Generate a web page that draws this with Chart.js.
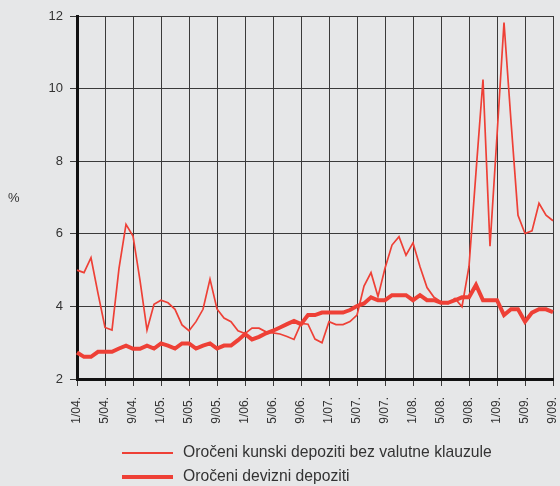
<!DOCTYPE html>
<html>
<head>
<meta charset="utf-8">
<script src="https://cdn.jsdelivr.net/npm/chart.js@4/dist/chart.umd.min.js"></script>
<style>
  body { margin: 0; background: #e6e7e8; font-family: "Liberation Sans", Arial, sans-serif; }
  #wrap { position: relative; width: 560px; height: 486px; }
  #unit { position: absolute; left: 8px; top: 190px; font-size: 13px; color: #333; }
  .leg { position: absolute; left: 122px; font-size: 15.7px; color: #333; }
  .leg span.line { position: absolute; left: 0; width: 51px; background: #ee4036; }
  .leg span.txt { position: absolute; left: 61px; white-space: nowrap; }
</style>
</head>
<body>
<div id="wrap">
  <canvas id="chart" width="560" height="486"></canvas>
  <div id="unit">%</div>
  <div class="leg" style="top:453px"><span class="line" style="top:-1px;height:2px"></span><span class="txt" style="top:-10px">Oročeni kunski depoziti bez valutne klauzule</span></div>
  <div class="leg" style="top:477px"><span class="line" style="top:-2px;height:4px"></span><span class="txt" style="top:-10px">Oročeni devizni depoziti</span></div>
</div>
<script>
const red = "#ee4036";
const gridDark = "#3a3a3a";

// months 1/04. .. 9/09.
const months = [];
for (let y = 4; y <= 9; y++) {
   for (let m = 1; m <= 12; m++) {
      if (y === 9 && m > 9) break;
      months.push(m + "/0" + y + ".");
   }
}

const kunski = [
   5.0, 4.93, 5.34, 4.36, 3.42, 3.35, 5.05, 6.26, 5.94, 4.72,
   3.35, 4.06, 4.17, 4.1, 3.92, 3.49, 3.33, 3.58, 3.92, 4.75,
   3.93, 3.68, 3.58, 3.33, 3.25, 3.4, 3.4, 3.3, 3.27, 3.24,
   3.17, 3.09, 3.53, 3.51, 3.1, 3.0, 3.58, 3.5, 3.5, 3.58,
   3.76, 4.56, 4.93, 4.27, 5.05, 5.69, 5.92, 5.41, 5.75, 5.09,
   4.52, 4.25, 4.13, 4.08, 4.22, 3.99, 5.1, 7.7, 10.25, 5.66,
   8.7, 11.82, 9.1, 6.51, 6.01, 6.08, 6.84, 6.51, 6.36
];

const devizni = [
   2.73, 2.61, 2.61, 2.75, 2.75, 2.75, 2.84, 2.92, 2.83, 2.83,
   2.92, 2.84, 2.98, 2.92, 2.84, 2.98, 2.98, 2.84, 2.92, 2.98,
   2.84, 2.92, 2.92, 3.07, 3.24, 3.09, 3.16, 3.26, 3.33, 3.42,
   3.51, 3.6, 3.51, 3.76, 3.76, 3.83, 3.83, 3.83, 3.83, 3.9,
   4.01, 4.08, 4.25, 4.17, 4.17, 4.31, 4.31, 4.31, 4.17, 4.31,
   4.17, 4.17, 4.1, 4.1, 4.17, 4.25, 4.25, 4.59, 4.17, 4.17,
   4.17, 3.76, 3.92, 3.92, 3.58, 3.83, 3.92, 3.92, 3.84
];

const yTicks = [2, 4, 6, 8, 10, 12];

new Chart("chart", {
   type: "line",
   data: {
      labels: months,
      datasets: [
         {
            label: "Oročeni kunski depoziti bez valutne klauzule",
            data: kunski,
            borderColor: red,
            borderWidth: 1.7,
            pointRadius: 0,
            tension: 0
         },
         {
            label: "Oročeni devizni depoziti",
            data: devizni,
            borderColor: red,
            borderWidth: 4,
            pointRadius: 0,
            tension: 0
         }
      ]
   },
   options: {
      responsive: false,
      animation: false,
      layout: { padding: { top: 16, right: 7, left: 0, bottom: 0 } },
      plugins: {
         legend: { display: false },
         tooltip: { enabled: false }
      },
      scales: {
         x: {
            afterFit: (s) => {
               s.height = 107;
               s.paddingLeft = 0;
               s.paddingRight = 0;
            },
            grid: {
               color: (ctx) => (ctx.index % 4 === 0 ? gridDark : "transparent"),
               tickColor: (ctx) => (ctx.index % 4 === 0 ? gridDark : "transparent"),
               tickLength: 7,
               lineWidth: 1
            },
            border: { color: "#111", width: 3 },
            ticks: {
               autoSkip: false,
               minRotation: 90,
               maxRotation: 90,
               padding: 11,
               color: "#333",
               font: { family: "Liberation Sans", size: 12 },
               callback: function (val, idx) {
                  return idx % 4 === 0 ? this.getLabelForValue(val) : "";
               }
            }
         },
         y: {
            min: 2,
            max: 12,
            afterFit: (s) => { s.width = 77; },
            afterBuildTicks: (s) => { s.ticks = yTicks.map((v) => ({ value: v })); },
            grid: { color: gridDark, tickColor: gridDark, tickLength: 7, lineWidth: 1 },
            border: { color: "#111", width: 3 },
            ticks: {
               padding: 7,
               color: "#333",
               font: { family: "Liberation Sans", size: 13 }
            }
         }
      }
   }
});
</script>
</body>
</html>
